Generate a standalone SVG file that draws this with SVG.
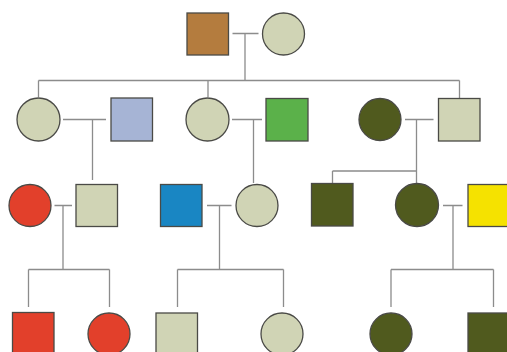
<svg xmlns="http://www.w3.org/2000/svg" width="507" height="352" viewBox="0 0 507 352">
<style>
.n{stroke:#4a4a46;stroke-width:1.3}
.c{fill:none;stroke:#8c8c8c;stroke-width:1.3}
.sage{fill:#d0d4b5}
.olive{fill:#505a1e}
.red{fill:#e2402b}
</style>
<rect width="507" height="352" fill="#ffffff"/>
<g id="connectors" class="c">
<path d="M232.5 33.5H258.5M245 33.5V80.5M38.5 80.5H459.5M38.5 80.5V97M208 80.5V97M459.5 80.5V98"/>
<path d="M63 119.5H106M92.5 119.5V180"/>
<path d="M232 119.5H262M253.5 119.5V183"/>
<path d="M405 119.5H433.5M416.5 119.5V171M332.5 171H416.5M332.5 171V183M416.5 171V183"/>
<path d="M54.5 205.5H72M63 205.5V269.5M28.5 269.5H109.5M28.5 269.5V307M109.5 269.5V307"/>
<path d="M207 205.5H231.5M219.5 205.5V269.5M177.5 269.5H283.5M177.5 269.5V307M283.5 269.5V307"/>
<path d="M443 205.5H462.5M453 205.5V269.5M391 269.5H493.5M391 269.5V307M493.5 269.5V307"/>
</g>
<g id="gen1-father"><rect class="n" x="187" y="13" width="41.5" height="42" fill="#b47c3e"/></g>
<g id="gen1-mother"><circle class="n sage" cx="283.5" cy="34" r="21"/></g>
<g id="gen2-daughter1"><circle class="n sage" cx="38.5" cy="119.5" r="21.5"/></g>
<g id="gen2-spouse1"><rect class="n" x="111" y="98" width="41.5" height="43" fill="#a6b4d5"/></g>
<g id="gen2-daughter2"><circle class="n sage" cx="207.5" cy="119.5" r="21.5"/></g>
<g id="gen2-spouse2"><rect class="n" x="266" y="98.5" width="42" height="42.5" fill="#5bb14a"/></g>
<g id="gen2-spouse3"><circle class="n olive" cx="380" cy="119.5" r="21"/></g>
<g id="gen2-son3"><rect class="n sage" x="438.5" y="98.5" width="41.5" height="42.5"/></g>
<g id="gen3-spouse1"><circle class="n red" cx="30" cy="205.5" r="21"/></g>
<g id="gen3-son1"><rect class="n sage" x="76" y="184.5" width="41.5" height="42"/></g>
<g id="gen3-spouse2"><rect class="n" x="160.5" y="184.5" width="41.5" height="42" fill="#1986c3"/></g>
<g id="gen3-daughter2"><circle class="n sage" cx="257" cy="205.5" r="21"/></g>
<g id="gen3-son3"><rect class="n olive" x="311.5" y="183.5" width="41.5" height="42.5"/></g>
<g id="gen3-daughter3"><circle class="n olive" cx="417" cy="205" r="21.5"/></g>
<g id="gen3-spouse3"><rect class="n" x="468" y="184.5" width="42" height="42" fill="#f5e200"/></g>
<g id="gen4-son1"><rect class="n red" x="12.5" y="312.5" width="41.5" height="45"/></g>
<g id="gen4-daughter1"><circle class="n red" cx="109" cy="334" r="21"/></g>
<g id="gen4-son2"><rect class="n sage" x="156" y="313" width="41.5" height="45"/></g>
<g id="gen4-daughter2"><circle class="n sage" cx="282" cy="334" r="21"/></g>
<g id="gen4-daughter3"><circle class="n olive" cx="391" cy="334" r="21"/></g>
<g id="gen4-son3"><rect class="n olive" x="468" y="313" width="42" height="45"/></g>
</svg>
